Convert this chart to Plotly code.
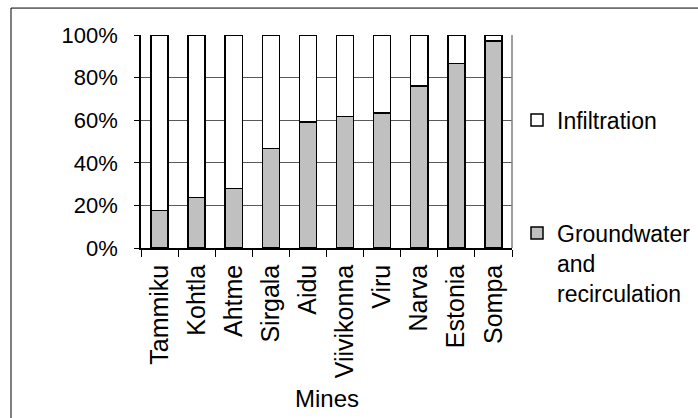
import plotly.graph_objects as go

mines = ["Tammiku", "Kohtla", "Ahtme", "Sirgala", "Aidu", "Viivikonna", "Viru", "Narva", "Estonia", "Sompa"]
groundwater = [17.5, 23.7, 27.9, 46.7, 59.1, 61.8, 63.4, 76.0, 86.7, 97.3]
infiltration = [100 - g for g in groundwater]
yticks = [0, 20, 40, 60, 80, 100]
yticklabels = ["0%", "20%", "40%", "60%", "80%", "100%"]

W, H = 698, 418
L, R, T, B = 141, 512, 35, 248.5
FONT = "Liberation Sans, Arial, sans-serif"

def px_x(px):
    return (px - L) / (R - L)

def px_y(py):
    return (B - py) / (B - T)

fig = go.Figure()
fig.add_trace(go.Bar(
    x=mines, y=groundwater, name="Groundwater<br>and<br>recirculation",
    marker=dict(color="#c0c0c0", line=dict(color="black", width=1.5)),
    legend="legend2", showlegend=True,
))
fig.add_trace(go.Bar(
    x=mines, y=infiltration, name="Infiltration",
    marker=dict(color="white", line=dict(color="black", width=1.5)),
    legend="legend", showlegend=True,
))

fig.update_layout(
    width=W, height=H,
    barmode="stack", bargap=0.54,
    margin=dict(l=L, r=W - R, t=T, b=H - B, autoexpand=False),
    paper_bgcolor="white", plot_bgcolor="white",
    font=dict(family=FONT, size=22, color="black"),
    showlegend=True,
    legend=dict(xref="container", yref="container", x=517 / W, y=1 - 120 / H,
                xanchor="left", yanchor="middle", font=dict(size=23),
                bgcolor="rgba(0,0,0,0)", borderwidth=0),
    legend2=dict(xref="container", yref="container", x=517 / W, y=1 - 263 / H,
                 xanchor="left", yanchor="middle", font=dict(size=23), valign="top",
                 bgcolor="rgba(0,0,0,0)", borderwidth=0),
    xaxis=dict(
        type="category", tickangle=-90, tickson="boundaries", automargin=False,
        ticks="outside", ticklen=7, tickcolor="black", tickwidth=1,
        showline=True, linecolor="black", linewidth=1.5,
        showgrid=False, tickfont=dict(size=25), ticklabelstandoff=5,
    ),
    yaxis=dict(
        range=[0, 100], tickvals=yticks, ticktext=yticklabels, automargin=False,
        ticks="outside", ticklen=5, tickcolor="black", tickwidth=1,
        showline=True, linecolor="black", linewidth=1.5,
        showgrid=True, gridcolor="#595959", gridwidth=1,
        zeroline=False, tickfont=dict(size=22), ticklabelstandoff=12,
    ),
    annotations=[dict(text="Mines", xref="paper", yref="paper",
                      x=0.5, y=px_y(399), xanchor="center", yanchor="middle",
                      showarrow=False, font=dict(size=24))],
    shapes=[
        dict(type="line", xref="paper", yref="paper", x0=1, x1=1, y0=0, y1=1,
             line=dict(color="#808080", width=1.5)),
        dict(type="line", xref="paper", yref="paper",
             x0=px_x(11), x1=px_x(W + 2), y0=px_y(8), y1=px_y(8),
             line=dict(color="black", width=1)),
        dict(type="line", xref="paper", yref="paper",
             x0=px_x(11), x1=px_x(11), y0=px_y(8), y1=px_y(H + 2),
             line=dict(color="black", width=1)),
    ],
)

fig.write_html("out.html", config={"displayModeBar": False},
               post_script="document.body.style.margin='0';")
